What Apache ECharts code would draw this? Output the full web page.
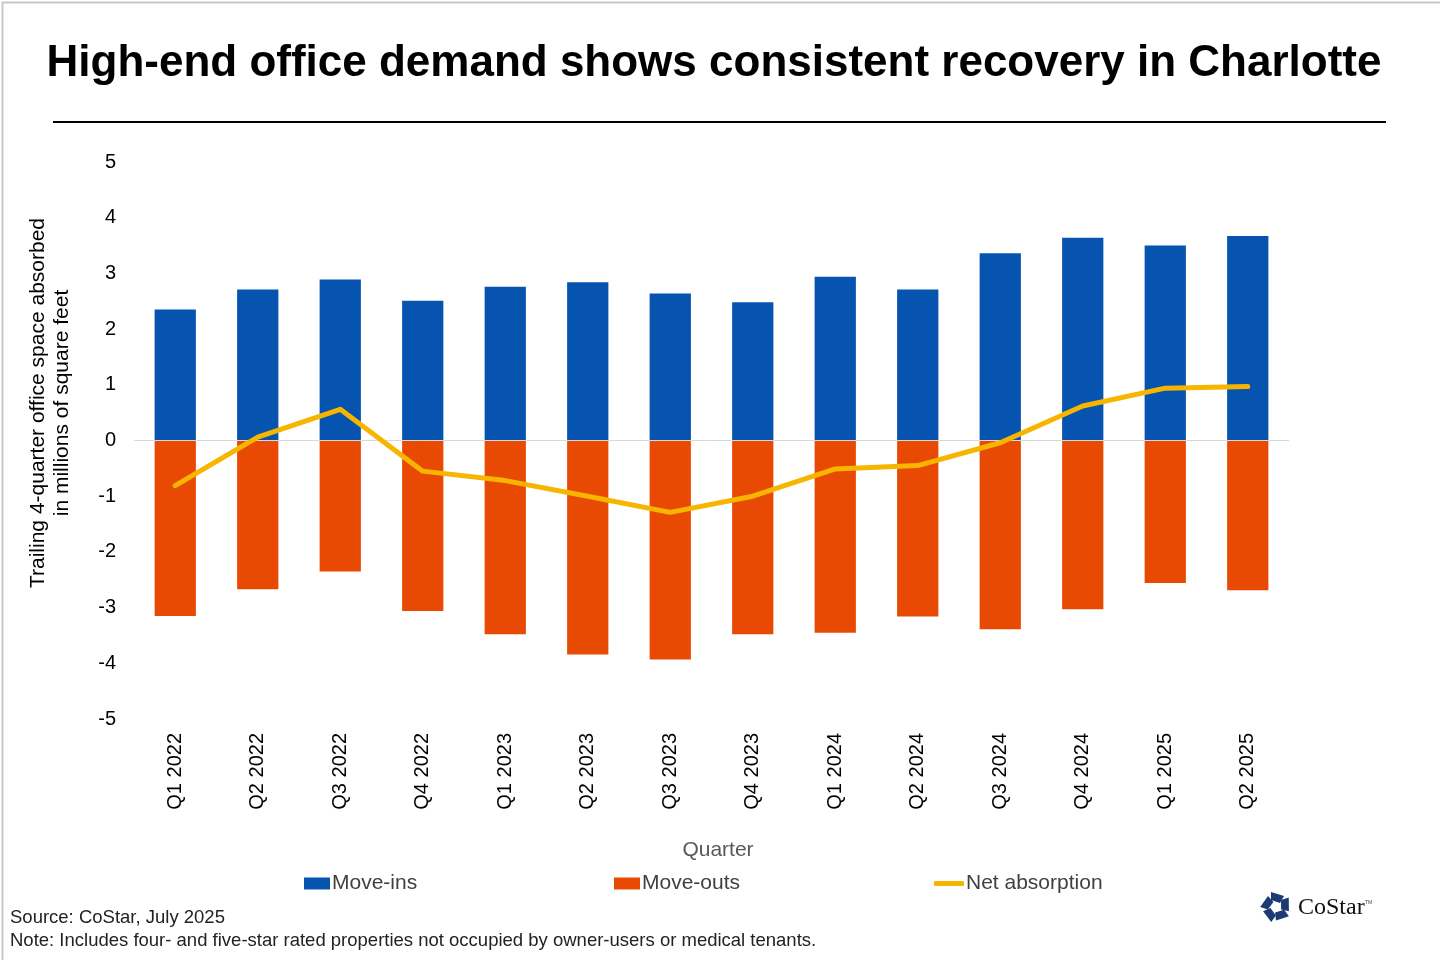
<html>
<head>
<meta charset="utf-8">
<script src="https://cdn.jsdelivr.net/npm/echarts@6/dist/echarts.min.js"></script>
<style>
  html, body { margin: 0; padding: 0; background: #fff; }
  #main { width: 1440px; height: 960px; }
</style>
</head>
<body>
<div id="main"></div>
<script>
var quarters = ['Q1 2022', 'Q2 2022', 'Q3 2022', 'Q4 2022', 'Q1 2023', 'Q2 2023', 'Q3 2023',
                'Q4 2023', 'Q1 2024', 'Q2 2024', 'Q3 2024', 'Q4 2024', 'Q1 2025', 'Q2 2025'];
var moveIns = [2.35, 2.71, 2.89, 2.51, 2.76, 2.84, 2.64, 2.48, 2.94, 2.71, 3.36, 3.64, 3.50, 3.67];
var moveOuts = [-3.15, -2.67, -2.35, -3.06, -3.48, -3.84, -3.93, -3.48, -3.45, -3.16, -3.39, -3.03, -2.56, -2.69];
var netAbsorption = [-0.81, 0.06, 0.56, -0.55, -0.72, -1.0, -1.29, -1.0, -0.51, -0.45, -0.04, 0.62, 0.94, 0.97];

var FONT = '"Liberation Sans", Arial, sans-serif';
var myChart = echarts.init(document.getElementById('main'));

// CoStar mark: five blocks around a centre
var logoBlocks = [];
for (var k = 0; k < 5; k++) {
    logoBlocks.push({
        type: 'polygon',
        rotation: -k * Math.PI * 2 / 5,
        shape: { points: [[-5, -15], [8, -11], [4, -4], [-5, -7]] },
        style: { fill: '#1d3a72' }
    });
}

var legendText = { fontSize: 21, color: '#404040', padding: [0, 0, 0, -3] };

var option = {
    backgroundColor: '#fff',
    textStyle: { fontFamily: FONT },
    grid: { left: 134, right: 151, top: 162, bottom: 241, containLabel: false },
    legend: [
        {
            left: 304, top: 873, padding: 0, data: ['Move-ins'], itemWidth: 26, itemHeight: 12,
            icon: 'rect', textStyle: legendText
        },
        {
            left: 614, top: 873, padding: 0, data: ['Move-outs'], itemWidth: 26, itemHeight: 12,
            icon: 'rect', textStyle: legendText
        },
        {
            left: 934, top: 873, padding: 0, data: ['Net absorption'], itemWidth: 30, itemHeight: 5,
            icon: 'roundRect', textStyle: legendText
        }
    ],
    xAxis: {
        type: 'category',
        data: quarters,
        name: 'Quarter',
        nameLocation: 'middle',
        nameGap: 121,
        nameTextStyle: { fontSize: 21, color: '#595959', padding: [0, 0, 0, 13] },
        axisLine: { show: false, onZero: false },
        axisTick: { show: false },
        axisLabel: { rotate: 90, fontSize: 20, color: '#000', margin: 14, interval: 0 }
    },
    yAxis: {
        type: 'value',
        min: -5,
        max: 5,
        interval: 1,
        axisLine: { show: false },
        axisTick: { show: false },
        splitLine: { show: false },
        axisLabel: { fontSize: 20, color: '#000', margin: 18 }
    },
    series: [
        {
            name: 'Move-ins',
            type: 'bar',
            stack: 'flow',
            data: moveIns,
            barWidth: '50%',
            itemStyle: { color: '#0653b0' },
            markLine: {
                silent: true,
                symbol: 'none',
                label: { show: false },
                lineStyle: { color: '#d9d9d9', width: 1, type: 'solid' },
                data: [{ yAxis: 0 }]
            }
        },
        {
            name: 'Move-outs',
            type: 'bar',
            stack: 'flow',
            data: moveOuts,
            barWidth: '50%',
            itemStyle: { color: '#e84a03' }
        },
        {
            name: 'Net absorption',
            type: 'line',
            data: netAbsorption,
            symbol: 'none',
            lineStyle: { color: '#f7b500', width: 5, cap: 'round', join: 'round' },
            itemStyle: { color: '#f7b500' },
            z: 5
        }
    ],
    graphic: [
        {
            type: 'rect', left: 0, top: 0, silent: true,
            shape: { x: 0.5, y: 0.5, width: 1439, height: 959 },
            style: { fill: 'none', stroke: '#c8c8c8', lineWidth: 2 }
        },
        {
            type: 'text', x: 714, y: 64,
            style: {
                text: 'High-end office demand shows consistent recovery in Charlotte',
                font: 'bold 44px ' + FONT, fill: '#000', align: 'center', verticalAlign: 'middle'
            }
        },
        {
            type: 'line',
            shape: { x1: 53, y1: 122, x2: 1386, y2: 122 },
            style: { stroke: '#000', lineWidth: 2 }
        },
        {
            type: 'text', x: 50, y: 403, rotation: Math.PI / 2,
            style: {
                text: 'Trailing 4-quarter office space absorbed\nin millions of square feet',
                font: '21px ' + FONT, fill: '#000', align: 'center', verticalAlign: 'middle',
                lineHeight: 24
            }
        },
        {
            type: 'text', x: 10, y: 918,
            style: { text: 'Source: CoStar, July 2025', font: '18.5px ' + FONT, fill: '#222', verticalAlign: 'middle' }
        },
        {
            type: 'text', x: 10, y: 941,
            style: {
                text: 'Note: Includes four- and five-star rated properties not occupied by owner-users or medical tenants.',
                font: '18.5px ' + FONT, fill: '#222', verticalAlign: 'middle'
            }
        },
        {
            type: 'group', x: 1276, y: 907,
            children: logoBlocks
        },
        {
            type: 'text', x: 1298, y: 908,
            style: { text: 'CoStar', font: '24px "Liberation Serif", serif', fill: '#111', verticalAlign: 'middle' }
        },
        {
            type: 'text', x: 1365, y: 903,
            style: { text: 'TM', font: '5px ' + FONT, fill: '#444', verticalAlign: 'middle' }
        }
    ]
};

myChart.setOption(option);
</script>
</body>
</html>
